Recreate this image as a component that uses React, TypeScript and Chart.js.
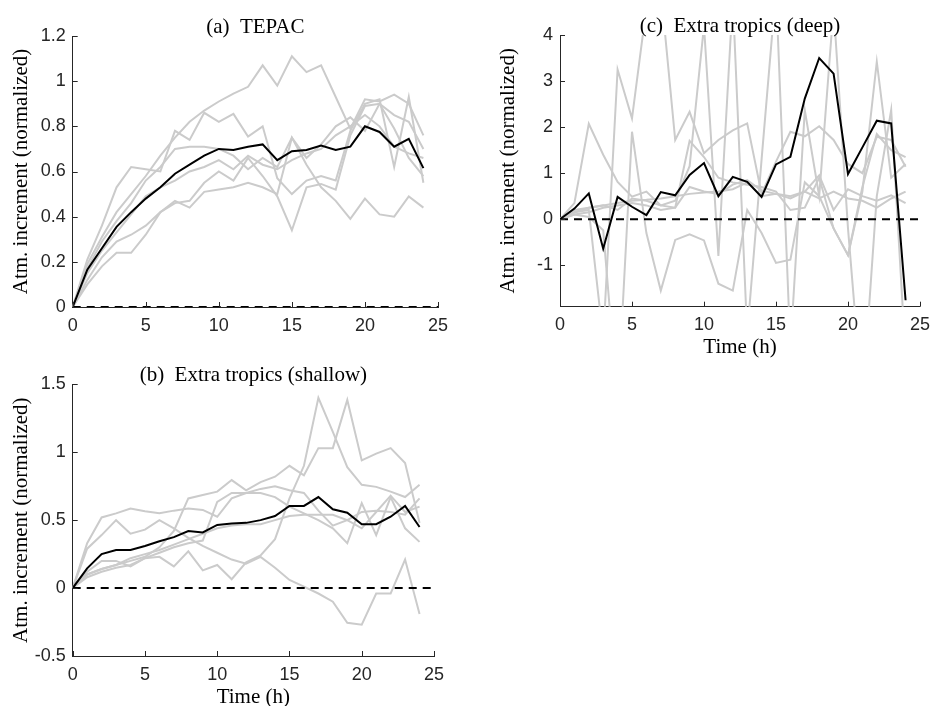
import React, { useEffect, useRef } from "react";
import { Chart, registerables } from "chart.js";

Chart.register(...registerables);

// ---------- data ----------
const HOURS = [0, 1, 2, 3, 4, 5, 6, 7, 8, 9, 10, 11, 12, 13, 14, 15, 16, 17, 18, 19, 20, 21, 22, 23, 24];
const X_TICKS = [0, 5, 10, 15, 20, 25];

// (a) TEPAC
const A_Y_TICKS = [0, 0.2, 0.4, 0.6, 0.8, 1, 1.2];
const A_MEAN = [0, 0.165, 0.26, 0.355, 0.42, 0.48, 0.53, 0.59, 0.63, 0.67, 0.7, 0.695, 0.71, 0.72, 0.65, 0.69, 0.695, 0.715, 0.695, 0.71, 0.8, 0.775, 0.71, 0.745, 0.615];
const A_M1 = [0, 0.19, 0.31, 0.42, 0.5, 0.58, 0.67, 0.75, 0.82, 0.87, 0.91, 0.945, 0.975, 1.07, 0.98, 1.11, 1.04, 1.07, 0.93, 0.79, 0.92, 0.91, 0.94, 0.9, 0.76];
const A_M2 = [0, 0.21, 0.36, 0.53, 0.62, 0.61, 0.6, 0.78, 0.74, 0.86, 0.82, 0.855, 0.755, 0.8, 0.57, 0.5, 0.56, 0.58, 0.56, 0.78, 0.9, 0.92, 0.62, 0.93, 0.55];
const A_M3 = [0, 0.17, 0.29, 0.38, 0.46, 0.56, 0.62, 0.7, 0.71, 0.71, 0.7, 0.67, 0.61, 0.66, 0.62, 0.75, 0.66, 0.72, 0.8, 0.84, 0.78, 0.9, 0.85, 0.82, 0.7];
const A_M4 = [0, 0.15, 0.25, 0.33, 0.41, 0.49, 0.53, 0.56, 0.6, 0.62, 0.65, 0.61, 0.67, 0.63, 0.61, 0.65, 0.68, 0.7, 0.76, 0.8, 0.85, 0.8, 0.71, 0.68, 0.66];
const A_M5 = [0, 0.12, 0.22, 0.29, 0.32, 0.36, 0.42, 0.46, 0.47, 0.55, 0.6, 0.56, 0.66, 0.58, 0.49, 0.34, 0.53, 0.545, 0.52, 0.76, 0.89, 0.9, 0.79, 0.66, 0.58];
const A_M6 = [0, 0.1, 0.18, 0.24, 0.24, 0.32, 0.42, 0.47, 0.44, 0.51, 0.52, 0.53, 0.55, 0.53, 0.5, 0.75, 0.63, 0.53, 0.47, 0.39, 0.48, 0.41, 0.4, 0.49, 0.44];

// (b) Extra tropics (shallow)
const B_Y_TICKS = [-0.5, 0, 0.5, 1, 1.5];
const B_MEAN = [0, 0.145, 0.25, 0.28, 0.28, 0.31, 0.345, 0.375, 0.42, 0.41, 0.465, 0.476, 0.48, 0.5, 0.53, 0.605, 0.605, 0.67, 0.58, 0.555, 0.47, 0.47, 0.525, 0.605, 0.45];
const B_M1 = [0, 0.33, 0.52, 0.55, 0.585, 0.565, 0.55, 0.57, 0.585, 0.575, 0.525, 0.66, 0.7, 0.73, 0.75, 0.72, 0.7, 0.57, 0.46, 0.5, 0.44, 0.56, 0.68, 0.56, 0.6];
const B_M2 = [0, 0.29, 0.39, 0.5, 0.4, 0.43, 0.5, 0.44, 0.37, 0.31, 0.26, 0.21, 0.18, 0.23, 0.15, 0.06, 0.01, -0.04, -0.1, -0.255, -0.27, -0.04, -0.04, 0.21, -0.19];
const B_M3 = [0, 0.08, 0.12, 0.15, 0.17, 0.22, 0.23, 0.16, 0.27, 0.13, 0.17, 0.065, 0.19, 0.24, 0.36, 0.66, 0.9, 1.4, 1.15, 0.89, 0.76, 0.745, 0.71, 0.67, 0.76];
const B_M4 = [0, 0.1, 0.14, 0.17, 0.2, 0.23, 0.3, 0.42, 0.66, 0.685, 0.71, 0.795, 0.72, 0.78, 0.82, 0.9, 0.83, 1.03, 1.03, 1.385, 0.94, 0.99, 1.03, 0.92, 0.48];
const B_M5 = [0, 0.12, 0.2, 0.2, 0.16, 0.22, 0.26, 0.3, 0.33, 0.35, 0.635, 0.7, 0.7, 0.7, 0.67, 0.6, 0.55, 0.5, 0.44, 0.33, 0.625, 0.39, 0.67, 0.44, 0.34];
const B_M6 = [0, 0.1, 0.14, 0.17, 0.22, 0.25, 0.28, 0.32, 0.36, 0.4, 0.44, 0.46, 0.47, 0.47, 0.5, 0.53, 0.54, 0.54, 0.54, 0.5, 0.56, 0.57, 0.56, 0.54, 0.66];

// (c) Extra tropics (deep)
const C_Y_TICKS = [-1, 0, 1, 2, 3, 4];
const C_MEAN = [0, 0.23, 0.56, -0.64, 0.485, 0.27, 0.09, 0.59, 0.52, 0.96, 1.22, 0.5, 0.92, 0.81, 0.485, 1.19, 1.355, 2.62, 3.5, 3.16, 0.98, 1.56, 2.14, 2.08, -1.76];
const C_M1 = [0, 0.35, 2.07, 1.4, 0.81, 0.49, 0.6, 0.3, 0.25, 0.7, 0.6, 0.55, 0.75, 0.85, 0.62, 0.55, 0.45, 0.6, 0.95, 0.2, 0.65, 0.5, 0.4, 0.52, 0.35];
const C_M2 = [0, 0.15, 0.2, -2.6, 3.25, 2.19, 4.6, 5.0, 1.72, 2.33, 1.43, 1.72, 1.93, 2.08, 0.55, 1.25, 1.9, 1.8, 2.02, 1.72, 1.2, 1.0, 1.79, 1.72, 1.14];
const C_M3 = [0, 0.1, 0.05, -0.24, -4.0, 1.9, -0.3, -1.55, -0.45, -0.33, -0.46, -1.4, -1.55, 0.2, -0.3, -0.95, -0.88, 0.8, 0.5, -0.2, -0.78, 0.7, 1.85, 1.5, 1.35];
const C_M4 = [0, 0.2, 0.25, 0.3, 0.2, 0.45, 0.4, 0.3, 0.4, 1.15, 4.2, -0.8, 4.8, -2.5, 1.3, 5.0, -2.8, 2.37, 0.5, 4.6, -0.2, -4.0, 0.5, 2.37, -3.0];
const C_M5 = [0, 0.15, 0.25, 0.3, 0.35, 0.4, 0.42, 0.45, 0.5, 0.55, 0.58, 0.6, 0.65, 0.8, 0.5, 0.55, 0.5, 0.6, 0.45, 0.6, 0.45, 0.4, 0.25, 0.45, 0.6];
const C_M6 = [0, 0.1, 0.15, 0.25, 0.3, 0.35, 0.3, 0.2, 0.25, 1.7, 1.35, 0.9, 0.8, 0.75, 0.7, 0.6, 0.2, 0.25, 0.9, -0.2, -0.78, 0.6, 3.42, 0.9, 1.2];

const ZERO_LINE_X = [0, 25];
const ZERO_LINE_Y = [0, 0];

// ---------- styling ----------
const SERIF = '"Liberation Serif", "Times New Roman", serif';
const SANS = '"Liberation Sans", Arial, sans-serif';
const AXIS_COLOR = "#262626";
const MEMBER_COLOR = "#cbcbcb";

type PanelCfg = {
  title: string;
  xTitle?: string;
  left: number;
  top: number;
  w: number;
  h: number;
  padTop: number;
  padRight: number;
  yAxisW: number;
  xAxisH: number;
  yMin: number;
  yMax: number;
  yTicks: number[];
  mean: number[];
  members: number[][];
  yTitleX: number;
  xTitleY?: number;
};

const PANELS: PanelCfg[] = [
  {
    title: "(a)  TEPAC",
    left: 0, top: 0, w: 469, h: 345,
    padTop: 36, padRight: 31, yAxisW: 72.7, xAxisH: 38,
    yMin: 0, yMax: 1.2, yTicks: A_Y_TICKS,
    mean: A_MEAN, members: [A_M1, A_M2, A_M3, A_M4, A_M5, A_M6],
    yTitleX: 21,
  },
  {
    title: "(b)  Extra tropics (shallow)",
    xTitle: "Time (h)",
    left: 0, top: 350, w: 469, h: 356,
    padTop: 34.3, padRight: 35, yAxisW: 72.7, xAxisH: 50,
    yMin: -0.5, yMax: 1.5, yTicks: B_Y_TICKS,
    mean: B_MEAN, members: [B_M1, B_M2, B_M3, B_M4, B_M5, B_M6],
    yTitleX: 21, xTitleY: 347,
  },
  {
    title: "(c)  Extra tropics (deep)",
    xTitle: "Time (h)",
    left: 469, top: 0, w: 469, h: 360,
    padTop: 35, padRight: 11.3, yAxisW: 91, xAxisH: 53.3,
    yMin: -1.9, yMax: 4, yTicks: C_Y_TICKS,
    mean: C_MEAN, members: [C_M1, C_M2, C_M3, C_M4, C_M5, C_M6],
    yTitleX: 39, xTitleY: 347.7,
  },
];

const toPoints = (ys: number[]) => HOURS.map((t, i) => ({ x: t, y: ys[i] }));

const panelDecor = {
  id: "panelDecor",
  afterDraw(chart: any, _args: any, opts: any) {
    const { ctx, chartArea, scales } = chart;
    const xs = scales.x;
    const ys = scales.y;
    ctx.save();
    // inward tick marks
    ctx.strokeStyle = AXIS_COLOR;
    ctx.lineWidth = 1;
    ctx.beginPath();
    for (const v of X_TICKS) {
      const px = Math.round(xs.getPixelForValue(v)) + 0.5;
      ctx.moveTo(px, chartArea.bottom);
      ctx.lineTo(px, chartArea.bottom - 5);
    }
    for (const v of opts.yTicks) {
      const py = Math.round(ys.getPixelForValue(v)) + 0.5;
      ctx.moveTo(chartArea.left, py);
      ctx.lineTo(chartArea.left + 5, py);
    }
    ctx.stroke();

    const cx = (chartArea.left + chartArea.right) / 2;
    ctx.fillStyle = "#000";
    ctx.font = `21px ${SERIF}`;
    ctx.textAlign = "center";
    ctx.textBaseline = "alphabetic";
    ctx.fillText(opts.title, cx, chartArea.top - 3);

    if (opts.xTitle) {
      ctx.textBaseline = "middle";
      ctx.fillText(opts.xTitle, cx, opts.xTitleY);
    }

    ctx.translate(opts.yTitleX, (chartArea.top + chartArea.bottom) / 2);
    ctx.rotate(-Math.PI / 2);
    ctx.textBaseline = "middle";
    ctx.fillText("Atm. increment (normalized)", 0, 0);
    ctx.restore();
  },
};

function Panel({ cfg }: { cfg: PanelCfg }) {
  const ref = useRef<HTMLCanvasElement>(null);
  useEffect(() => {
    const canvas = ref.current;
    if (!canvas) return;
    const datasets: any[] = [
      {
        data: ZERO_LINE_X.map((x, i) => ({ x, y: ZERO_LINE_Y[i] })),
        borderColor: "#000",
        borderWidth: 2,
        borderDash: [8, 6],
        pointRadius: 0,
      },
      {
        data: toPoints(cfg.mean),
        borderColor: "#000",
        borderWidth: 2,
        pointRadius: 0,
      },
      ...cfg.members.map((m) => ({
        data: toPoints(m),
        borderColor: MEMBER_COLOR,
        borderWidth: 2,
        pointRadius: 0,
      })),
    ];
    const chart = new Chart(canvas, {
      type: "line",
      data: { datasets },
      options: {
        animation: false,
        responsive: false,
        events: [],
        layout: { padding: { top: cfg.padTop, right: cfg.padRight, left: 0, bottom: 0 } },
        elements: { line: { tension: 0 } },
        plugins: {
          legend: { display: false },
          tooltip: { enabled: false },
          title: { display: false },
          panelDecor: {
            title: cfg.title,
            xTitle: cfg.xTitle,
            xTitleY: cfg.xTitleY,
            yTitleX: cfg.yTitleX,
            yTicks: cfg.yTicks,
          },
        } as any,
        scales: {
          x: {
            type: "linear",
            min: 0,
            max: 25,
            afterBuildTicks: (s: any) => {
              s.ticks = X_TICKS.map((v) => ({ value: v }));
            },
            afterFit: (s: any) => {
              s.height = cfg.xAxisH;
            },
            ticks: {
              font: { family: SANS, size: 18 },
              color: AXIS_COLOR,
              padding: 8,
              maxRotation: 0,
              autoSkip: false,
              callback: (v: any) => String(v),
            },
            grid: { display: false, drawTicks: false },
            border: { display: true, color: AXIS_COLOR, width: 1 },
          },
          y: {
            type: "linear",
            min: cfg.yMin,
            max: cfg.yMax,
            afterBuildTicks: (s: any) => {
              s.ticks = cfg.yTicks.map((v) => ({ value: v }));
            },
            afterFit: (s: any) => {
              s.width = cfg.yAxisW;
            },
            ticks: {
              font: { family: SANS, size: 18 },
              color: AXIS_COLOR,
              padding: 7,
              autoSkip: false,
              callback: (v: any) => String(Math.round(Number(v) * 100) / 100),
            },
            grid: { display: false, drawTicks: false },
            border: { display: true, color: AXIS_COLOR, width: 1 },
          },
        },
      } as any,
      plugins: [panelDecor],
    });
    return () => chart.destroy();
  }, [cfg]);
  return (
    <canvas
      ref={ref}
      width={cfg.w}
      height={cfg.h}
      style={{ position: "absolute", left: cfg.left, top: cfg.top, width: cfg.w, height: cfg.h }}
    />
  );
}

export default function App() {
  return (
    <div style={{ position: "absolute", left: 0, top: 0, width: 938, height: 706, background: "#fff" }}>
      {PANELS.map((p, i) => (
        <Panel key={i} cfg={p} />
      ))}
    </div>
  );
}
